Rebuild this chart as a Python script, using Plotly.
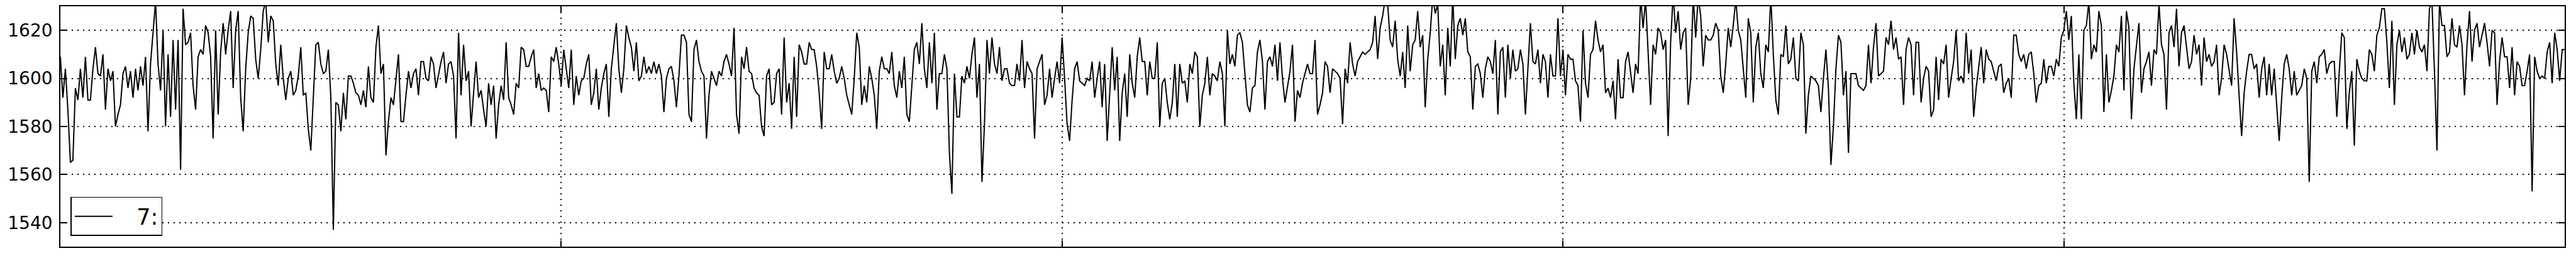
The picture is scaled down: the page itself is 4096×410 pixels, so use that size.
import plotly.graph_objects as go

# -------------------------------------------------
# Series "7:", in chunks
# -------------------------------------------------
seg_a = [1609, 1592, 1604, 1587, 1565, 1566, 1596, 1591, 1604, 1592, 1609, 1591, 1591, 1604, 1613, 1602,
         1601, 1610, 1587, 1604, 1599, 1603, 1580, 1585, 1589, 1602, 1605, 1596, 1603, 1592, 1604, 1595,
         1605, 1597, 1609, 1578, 1606, 1620, 1632, 1606, 1595, 1620, 1580, 1610, 1584, 1616, 1587, 1616,
         1562, 1629, 1614, 1615, 1619, 1597, 1587, 1609, 1612, 1610, 1622, 1619, 1609, 1575]
seg_b = [1620, 1585, 1611, 1623, 1610, 1620, 1628, 1596, 1620, 1628, 1592, 1578, 1604, 1619, 1626, 1625,
         1608, 1600, 1612, 1628, 1632, 1615, 1626, 1624, 1606, 1597, 1614, 1600, 1591, 1600, 1603, 1593,
         1595, 1601, 1613, 1593, 1594, 1579, 1570, 1592, 1614, 1615, 1606, 1602, 1603, 1612, 1592, 1537,
         1590, 1589, 1578, 1594, 1583, 1601, 1601, 1598, 1594, 1593, 1589, 1595, 1588, 1605, 1592, 1590,
         1613, 1622, 1602, 1606, 1568, 1582, 1592, 1589, 1599, 1610, 1582, 1582, 1593, 1603, 1596, 1602,
         1604, 1593, 1607, 1607, 1600, 1599]
seg_c = [1609, 1606, 1596, 1602, 1607, 1611, 1598, 1606, 1607, 1601, 1575, 1619, 1593, 1614, 1599, 1603,
         1580, 1594, 1607, 1592, 1595, 1587, 1580, 1598, 1589, 1597, 1575, 1589, 1597, 1591, 1615, 1592,
         1589, 1585, 1598, 1596, 1613, 1612, 1605, 1605, 1609, 1612, 1596, 1602, 1595, 1596, 1595, 1586,
         1609, 1607, 1613, 1606, 1597, 1612, 1604, 1596, 1612, 1589, 1601, 1593, 1599, 1600, 1606, 1610,
         1589, 1594, 1604, 1587, 1596, 1602, 1606, 1584, 1604, 1614, 1623, 1604, 1594, 1604, 1622, 1617,
         1613, 1603, 1615, 1599, 1601, 1609]
seg_d = [1602, 1605, 1602, 1607, 1602, 1606, 1601, 1586, 1600, 1604, 1605, 1599, 1588, 1601, 1618, 1618,
         1615, 1585, 1582, 1612, 1616, 1607, 1603, 1601, 1575, 1593, 1603, 1600, 1597, 1603, 1601, 1607,
         1610, 1606, 1601, 1621, 1585, 1577, 1609, 1604, 1613, 1603, 1602, 1596, 1594, 1593, 1580, 1576,
         1601, 1604, 1589, 1590, 1602, 1604, 1585, 1617, 1590, 1598, 1579, 1609, 1584, 1614, 1611, 1606,
         1606, 1615, 1612, 1612, 1605, 1594, 1579, 1611, 1604, 1604, 1610, 1603, 1598, 1600, 1605, 1600,
         1593, 1589, 1585, 1600, 1619, 1613]
seg_e = [1589, 1597, 1590, 1605, 1600, 1593, 1579, 1603, 1609, 1604, 1604, 1602, 1611, 1597, 1592, 1603,
         1596, 1609, 1585, 1582, 1596, 1612, 1615, 1606, 1623, 1604, 1596, 1615, 1598, 1619, 1587, 1602,
         1602, 1610, 1604, 1569, 1552, 1602, 1584, 1584, 1601, 1598, 1605, 1600, 1610, 1617, 1592, 1606,
         1557, 1581, 1616, 1602, 1617, 1606, 1602, 1613, 1599, 1604, 1604, 1598, 1597, 1597, 1606, 1599,
         1616, 1596, 1607, 1604, 1602, 1575, 1604, 1607, 1610, 1589, 1593, 1604, 1592, 1600, 1607, 1598,
         1617, 1600, 1581, 1574, 1591, 1604]
seg_f = [1607, 1599, 1598, 1597, 1600, 1599, 1607, 1592, 1600, 1607, 1588, 1606, 1574, 1593, 1613, 1595,
         1609, 1574, 1594, 1602, 1584, 1610, 1598, 1592, 1609, 1617, 1607, 1607, 1593, 1607, 1600, 1600,
         1615, 1580, 1598, 1600, 1590, 1583, 1590, 1606, 1584, 1606, 1598, 1599, 1590, 1606, 1602, 1611,
         1609, 1580, 1593, 1598, 1609, 1593, 1602, 1601, 1599, 1607, 1602, 1580, 1620, 1606, 1610, 1605,
         1618, 1619, 1615, 1602, 1589, 1586, 1596, 1597, 1611, 1616, 1607, 1587, 1607, 1609, 1605, 1614,
         1599, 1615, 1600, 1590, 1596, 1603]
seg_g = [1614, 1582, 1595, 1592, 1598, 1602, 1606, 1602, 1602, 1616, 1585, 1589, 1594, 1607, 1605, 1594,
         1604, 1603, 1602, 1600, 1581, 1604, 1598, 1615, 1606, 1601, 1607, 1609, 1611, 1610, 1611, 1612,
         1615, 1626, 1608, 1621, 1626, 1633, 1631, 1616, 1613, 1624, 1608, 1601, 1611, 1596, 1622, 1603,
         1614, 1616, 1628, 1613, 1618, 1588, 1608, 1619, 1634, 1627, 1631, 1605, 1614, 1593, 1621, 1605,
         1634, 1608, 1622, 1625, 1618, 1625, 1611, 1609, 1587, 1605, 1606, 1602, 1592, 1604, 1609, 1607,
         1602, 1616, 1585, 1611, 1613, 1592]
seg_h = [1614, 1600, 1612, 1603, 1604, 1612, 1606, 1585, 1604, 1623, 1607, 1606, 1612, 1598, 1610, 1607,
         1592, 1610, 1601, 1601, 1625, 1601, 1612, 1593, 1610, 1608, 1608, 1599, 1597, 1582, 1620, 1598,
         1592, 1610, 1612, 1624, 1616, 1611, 1614, 1594, 1596, 1592, 1599, 1583, 1608, 1592, 1592, 1607,
         1611, 1602, 1594, 1606, 1602, 1634, 1621, 1633, 1610, 1589, 1614, 1610, 1621, 1619, 1612, 1616,
         1576, 1615, 1635, 1619, 1628, 1612, 1619, 1621, 1589, 1600, 1634, 1617, 1634, 1626, 1605, 1618,
         1616, 1616, 1618, 1623, 1620, 1601]
seg_i = [1594, 1606, 1621, 1613, 1622, 1633, 1620, 1616, 1604, 1592, 1625, 1619, 1590, 1613, 1619, 1602,
         1596, 1614, 1611, 1634, 1610, 1591, 1585, 1610, 1609, 1622, 1606, 1608, 1617, 1600, 1599, 1619,
         1614, 1577, 1593, 1601, 1600, 1599, 1597, 1586, 1600, 1612, 1596, 1564, 1580, 1604, 1618, 1615,
         1593, 1603, 1569, 1602, 1602, 1602, 1597, 1596, 1595, 1597, 1614, 1598, 1613, 1623, 1601, 1602,
         1603, 1617, 1614, 1624, 1612, 1617, 1608, 1609, 1589, 1612, 1617, 1614, 1593, 1615, 1615, 1590,
         1600, 1605, 1603, 1584, 1587, 1609]
seg_j = [1591, 1608, 1606, 1614, 1592, 1600, 1607, 1620, 1599, 1601, 1598, 1619, 1602, 1612, 1584, 1596,
         1605, 1613, 1598, 1612, 1608, 1607, 1603, 1599, 1605, 1606, 1594, 1598, 1600, 1592, 1618, 1618,
         1610, 1607, 1610, 1604, 1610, 1611, 1602, 1590, 1597, 1598, 1608, 1598, 1605, 1605, 1601, 1608,
         1605, 1617, 1620, 1628, 1616, 1626, 1598, 1583, 1610, 1583, 1620, 1622, 1632, 1608, 1614, 1611,
         1628, 1622, 1586, 1610, 1590, 1595, 1601, 1614, 1611, 1626, 1595, 1628, 1621, 1583, 1604, 1613,
         1623, 1594, 1604, 1607, 1611]
seg_k = [1597, 1612, 1610, 1631, 1614, 1610, 1587, 1619, 1622, 1613, 1629, 1605, 1619, 1622, 1613, 1604,
         1607, 1618, 1610, 1614, 1597, 1617, 1607, 1610, 1605, 1607, 1614, 1593, 1600, 1614, 1610, 1604,
         1597, 1625, 1611, 1593, 1576, 1594, 1603, 1610, 1610, 1604, 1606, 1592, 1604, 1609, 1593, 1606,
         1593, 1604, 1589, 1574, 1592, 1606, 1610, 1604, 1593, 1603, 1593, 1595, 1597, 1604, 1600, 1557,
         1603, 1607, 1598, 1609, 1610, 1612, 1602, 1606, 1607, 1607, 1584, 1603, 1619, 1617, 1579, 1594,
         1603, 1572, 1608, 1603, 1600, 1599]
seg_l = [1599, 1612, 1610, 1603, 1618, 1621, 1629, 1629, 1615, 1596, 1624, 1589, 1614, 1620, 1611, 1617,
         1608, 1610, 1619, 1610, 1620, 1613, 1611, 1614, 1603, 1629, 1632, 1603, 1570, 1632, 1622, 1622,
         1609, 1611, 1625, 1614, 1613, 1622, 1614, 1593, 1614, 1628, 1607, 1620, 1623, 1613, 1618, 1623,
         1615, 1605, 1620, 1619, 1589, 1607, 1617, 1609, 1609, 1596, 1613, 1593, 1607, 1605, 1597, 1597,
         1603, 1610, 1553, 1609, 1603, 1600, 1601, 1600, 1611, 1615, 1598, 1619, 1612, 1599, 1612, 1612]

values = (seg_a + seg_b + seg_c + seg_d + seg_e + seg_f
          + seg_g + seg_h + seg_i + seg_j + seg_k + seg_l)
steps = list(range(len(values)))

y_ticks = [1540, 1560, 1580, 1600, 1620]
x_ticks = [0, 200, 400, 600, 800, 1000]

# -------------------------------------------------
# Figure
# -------------------------------------------------
fig = go.Figure()
fig.add_trace(go.Scatter(
    x=steps,
    y=values,
    mode="lines",
    name="\u00a0\u00a0\u00a07:",
    line=dict(color="black", width=2.0),
))

axis_style = dict(
    showline=True,
    linecolor="black",
    linewidth=1.7,
    mirror="allticks",
    ticks="inside",
    ticklen=10,
    tickwidth=1.5,
    tickcolor="black",
    showgrid=True,
    gridcolor="black",
    gridwidth=1.5,
    griddash="2px,7px",
    zeroline=False,
    automargin=False,
)

fig.update_xaxes(range=[0, 1000], tickvals=x_ticks, showticklabels=False, **axis_style)
fig.update_yaxes(range=[1530, 1630], tickvals=y_ticks,
                 tickfont=dict(family="DejaVu Sans", size=28, color="black"),
                 ticklabelstandoff=5, **axis_style)

# the page body adds an 8px offset, so the figure is 8px smaller each way
fig.update_layout(
    width=4088,
    height=402,
    margin=dict(l=88, r=18, t=2, b=18),
    paper_bgcolor="white",
    plot_bgcolor="white",
    showlegend=True,
    legend=dict(
        x=0.0041, y=0.045, xanchor="left", yanchor="bottom",
        bgcolor="white", bordercolor="black", borderwidth=1.6,
        font=dict(family="DejaVu Sans", size=35, color="black"),
        itemwidth=60,
    ),
)

fig.write_html("out.html")
